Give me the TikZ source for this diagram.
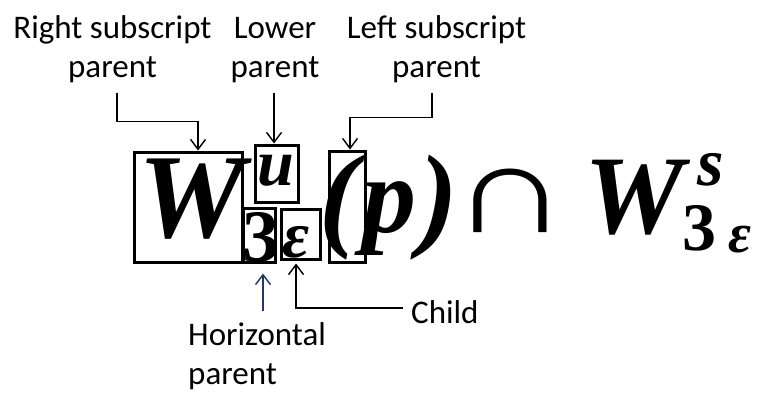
\documentclass[tikz,border=0pt]{standalone}
\usepackage{fontspec}
\setmainfont{Carlito}
\newfontfamily\mathbi{Liberation Serif}[BoldItalicFont={* Bold Italic}]
\usetikzlibrary{arrows.meta,calc}

\definecolor{navyline}{RGB}{31,56,100}

\tikzset{
  lbl/.style={inner sep=0pt, font=\fontsize{33}{39}\selectfont, align=center},
  glyph/.style={inner sep=0pt, anchor=base west},
  partbox/.style={draw=black, line width=3pt, inner sep=0pt},
  conn/.style={draw=black, line width=1.4pt},
  arr/.style={conn, -{Straight Barb[length=10pt,width=15pt,line width=1.4pt]}},
}

\begin{document}
\begin{tikzpicture}[x=1pt,y=-1pt]
  \useasboundingbox (0,0) rectangle (759,394);

  % ---- the formula, glyph by glyph ----
  \node[glyph] (gW)  at (138,237) {\mathbi\bfseries\itshape\fontsize{120}{120}\selectfont W};
  \node[glyph] (gu)  at (257,185) {\mathbi\bfseries\itshape\fontsize{66}{66}\selectfont u};
  \node[glyph] (g3)  at (242,261) {\mathbi\bfseries\fontsize{74}{74}\selectfont 3};
  \node[glyph] (ge)  at (282,257) {\mathbi\bfseries\itshape\fontsize{66}{66}\selectfont ε};
  \node[glyph] (glp) at (319,235) {\mathbi\bfseries\itshape\fontsize{116}{116}\selectfont (};
  \node[glyph] (gp)  at (362,232) {\mathbi\bfseries\itshape\fontsize{108}{108}\selectfont p};
  \node[glyph] (grp) at (419,235) {\mathbi\bfseries\itshape\fontsize{116}{116}\selectfont )};
  \node[glyph] (gcap) at (451,232) {\scalebox{1.3}[1]{\mathbi\bfseries\fontsize{126}{126}\selectfont ∩}};
  \node[glyph] (gW2) at (584,233) {\mathbi\bfseries\itshape\fontsize{112}{112}\selectfont W};
  \node[glyph] (gs)  at (697,185) {\mathbi\bfseries\itshape\fontsize{68}{68}\selectfont s};
  \node[glyph] (g32) at (682,250) {\mathbi\bfseries\fontsize{68}{68}\selectfont 3};
  \node[glyph] (ge2) at (728,252) {\mathbi\bfseries\itshape\fontsize{56}{56}\selectfont ε};

  % ---- boxes round the parts ----
  \node[partbox, minimum width=108pt, minimum height=110pt] (wbox) at (188,207) {};
  \node[partbox, minimum width=43pt,  minimum height=57pt]  (ubox) at (276.5,173.5) {};
  \node[partbox, minimum width=32pt,  minimum height=54pt]  (tbox) at (259,235) {};
  \node[partbox, minimum width=39pt,  minimum height=50pt]  (ebox) at (300.5,234) {};
  \node[partbox, minimum width=36pt,  minimum height=111pt] (pbox) at (347,206.5) {};

  % ---- labels (anchored on the baseline of their last line) ----
  \node[lbl, anchor=base] (rsp) at (112.5,77) {Right subscript\\parent};
  \node[lbl, anchor=base] (lwp) at (275,77) {Lower\\parent};
  \node[lbl, anchor=base] (lsp) at (436.5,77) {Left subscript\\parent};
  \node[lbl, anchor=base west] (chl) at (411,323) {Child};
  \node[lbl, anchor=base west, align=left] (hzp) at (188,384) {Horizontal\\parent};

  % ---- connectors ----
  \coordinate (rs0) at (117,93);
  \coordinate (lw0) at (274,93);
  \coordinate (ls0) at (432,93);
  \coordinate (ch0) at (403,308);
  \coordinate (hp0) at (263,311);

  \draw[arr] (rs0) |- ($(wbox.north)+(10,-29)$) -- ($(wbox.north)+(10,0)$);
  \draw[arr] (lw0) -- (lw0 |- ubox.north);
  \draw[arr] (ls0) |- ($(pbox.north)+(3,-32)$) -- ($(pbox.north)+(3,0)$);
  \draw[arr] (ch0) -| ($(ebox.south)+(-4.5,3)$);
  \draw[arr, draw=navyline] (hp0) -- ($(hp0 |- tbox.south)+(0,10)$);
\end{tikzpicture}
\end{document}
